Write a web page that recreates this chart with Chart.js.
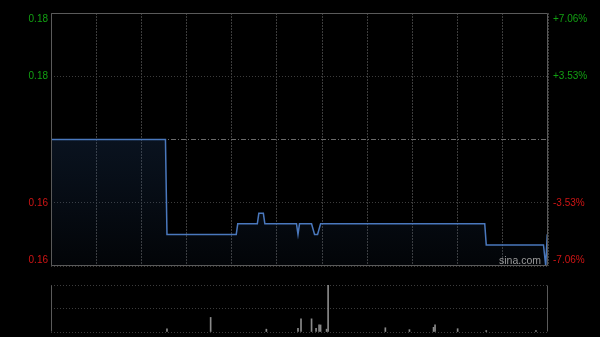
<!DOCTYPE html>
<html lang="zh">
<head>
<meta charset="utf-8">
<title>分时图</title>
<script src="https://cdn.jsdelivr.net/npm/chart.js@4.4.1/dist/chart.umd.min.js"></script>
<style>
  html, body { margin: 0; padding: 0; background: #000; overflow: hidden; }
  body { width: 600px; height: 337px; position: relative; font-family: 'Liberation Sans', Arial, sans-serif; }
  #main { position: absolute; left: 0; top: 0; width: 600px; height: 270px; }
  #vol { position: absolute; left: 0; top: 280px; width: 600px; height: 57px; }
  .mark { position: absolute; left: 499px; top: 254px; font-size: 10.5px; color: #9a9a9a; }
</style>
</head>
<body>
<div id="main"><canvas id="chartPrice"></canvas></div>
<div id="vol"><canvas id="chartVol"></canvas></div>
<div class="mark">sina.com</div>
<script>
// minutes since 9:30 (lunch break removed), 330 = 16:00
const timeTicks = [0, 30, 60, 90, 120, 150, 180, 210, 240, 270, 300, 330];
const prevClose = 0.170;
const priceTicks = [0.158, 0.164, 0.170, 0.176, 0.182];
const leftLabels = ['0.16', '0.16', '', '0.18', '0.18'];
const rightLabels = ['-7.06%', '-3.53%', '', '+3.53%', '+7.06%'];

// price line, change points
const priceMinutes = [0, 76, 77, 123, 124, 137, 138, 141, 142, 163, 164, 165, 173, 175, 177, 179, 288, 289, 327, 328.5, 329.5];
const prices = [0.170, 0.170, 0.161, 0.161, 0.162, 0.162, 0.163, 0.163, 0.162, 0.162, 0.161, 0.162, 0.162, 0.161, 0.161, 0.162, 0.162, 0.160, 0.160, 0.158, 0.161];

// volume bars (relative units, tallest = 100)
const volMinutes = [77, 106, 143, 164, 166, 173, 176, 178, 179, 183, 184, 222, 238, 254, 255, 270, 289, 322];
const volumes = [7, 31, 6, 8, 28, 28, 8, 15, 15, 6, 100, 9, 5, 10, 15, 7, 3, 3];

const GREEN = '#12a012';
const RED = '#d01515';
const GRID = '#3c3c3c';
const FRAME = '#5a5a5a';
const font = { family: "'Liberation Sans', Arial, sans-serif", size: 10 };

const tickColor = c => (c.index >= 3 ? GREEN : RED);
// push the edge labels inward (top one down, bottom one up)
const edgeLabel = (txt, i) => (i === 0 ? [txt, ''] : i === 4 ? ['', txt] : txt);

function framePlugin(sides) {
  return {
    id: 'frame',
    afterDatasetsDraw(chart) {
      const { ctx, chartArea: a } = chart;
      ctx.save();
      ctx.strokeStyle = FRAME;
      ctx.lineWidth = 1;
      ctx.beginPath();
      const L = Math.round(a.left) + 0.5, R = Math.round(a.right) - 0.5;
      const T = Math.round(a.top) + 0.5, B = Math.round(a.bottom) - 0.5;
      if (sides.includes('l')) { ctx.moveTo(L, T); ctx.lineTo(L, B); }
      if (sides.includes('r')) { ctx.moveTo(R, T); ctx.lineTo(R, B); }
      if (sides.includes('t')) { ctx.moveTo(L, T); ctx.lineTo(R, T); }
      if (sides.includes('b')) { ctx.moveTo(L, B); ctx.lineTo(R, B); }
      ctx.stroke();
      ctx.restore();
    }
  };
}

const setTicks = list => scale => { scale.ticks = list.map(v => ({ value: v })); };

new Chart(document.getElementById('chartPrice'), {
  type: 'line',
  data: {
    datasets: [
      {
        label: '价格',
        data: priceMinutes.map((m, i) => ({ x: m, y: prices[i] })),
        borderColor: '#4a78bd',
        borderWidth: 1.5,
        pointRadius: 0,
        tension: 0,
        fill: 'start',
        order: 0,
        backgroundColor: c => {
          const a = c.chart.chartArea;
          if (!a) return 'transparent';
          const g = c.chart.ctx.createLinearGradient(0, a.top, 0, a.bottom);
          g.addColorStop(0, 'rgba(40,78,130,0.42)');
          g.addColorStop(1, 'rgba(40,78,130,0.06)');
          return g;
        }
      },
      {
        label: '昨收',
        data: [{ x: timeTicks[0], y: prevClose }, { x: timeTicks[timeTicks.length - 1], y: prevClose }],
        borderColor: '#6a6a6a',
        borderWidth: 1,
        borderDash: [5, 2, 1, 2],
        pointRadius: 0,
        fill: false,
        order: 1
      }
    ]
  },
  options: {
    responsive: true,
    maintainAspectRatio: false,
    animation: false,
    events: [],
    layout: { padding: { top: 13, bottom: 4, left: 0, right: 0 } },
    plugins: { legend: { display: false }, tooltip: { enabled: false } },
    scales: {
      x: {
        type: 'linear',
        min: 0,
        max: 330,
        afterBuildTicks: setTicks(timeTicks),
        afterFit: s => { s.height = 0; },
        ticks: { display: false },
        grid: { color: GRID, drawTicks: false },
        border: { display: false, dash: [2, 1] }
      },
      y: {
        position: 'left',
        min: priceTicks[0],
        max: priceTicks[priceTicks.length - 1],
        afterBuildTicks: setTicks(priceTicks),
        afterFit: s => { s.width = 51; s.paddingTop = 0; s.paddingBottom = 0; },
        ticks: {
          autoSkip: false,
          padding: 3,
          font,
          color: tickColor,
          callback: (v, i) => edgeLabel(leftLabels[i], i)
        },
        grid: { color: c => (c.index === 2 ? 'transparent' : GRID), drawTicks: false },
        border: { display: false, dash: [1, 2] }
      },
      y2: {
        position: 'right',
        min: priceTicks[0],
        max: priceTicks[priceTicks.length - 1],
        afterBuildTicks: setTicks(priceTicks),
        afterFit: s => { s.width = 52; s.paddingTop = 0; s.paddingBottom = 0; },
        ticks: {
          autoSkip: false,
          padding: 5,
          font,
          color: tickColor,
          callback: (v, i) => edgeLabel(rightLabels[i], i)
        },
        grid: { display: false, drawTicks: false },
        border: { display: false }
      }
    }
  },
  plugins: [framePlugin('lrtb')]
});

new Chart(document.getElementById('chartVol'), {
  type: 'bar',
  data: {
    datasets: [{
      label: '成交量',
      data: volMinutes.map((m, i) => ({ x: m, y: volumes[i] })),
      backgroundColor: '#8a8a8a',
      barThickness: 1,
      borderWidth: 0
    }]
  },
  options: {
    responsive: true,
    maintainAspectRatio: false,
    animation: false,
    events: [],
    layout: { padding: { top: 5, bottom: 5, left: 0, right: 52 } },
    plugins: { legend: { display: false }, tooltip: { enabled: false } },
    scales: {
      x: {
        type: 'linear',
        min: 0,
        max: 330,
        offset: false,
        afterFit: s => { s.height = 0; },
        ticks: { display: false },
        grid: { display: false, offset: false, drawTicks: false },
        border: { display: false }
      },
      y: {
        min: 0,
        max: 100,
        afterBuildTicks: setTicks([0, 50, 100]),
        afterFit: s => { s.width = 51; s.paddingTop = 0; s.paddingBottom = 0; },
        ticks: { display: false },
        grid: { color: GRID, drawTicks: false },
        border: { display: false, dash: [1, 2] }
      }
    }
  },
  plugins: [framePlugin('lr')]
});
</script>
</body>
</html>
